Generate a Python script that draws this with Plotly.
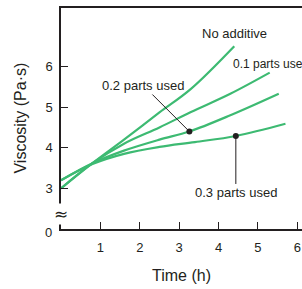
import plotly.graph_objects as go

# Data (time in h, viscosity in Pa·s; y=2 plotted position stands for the broken-axis "0")
x_none = [0, 0.8, 1.6, 2.5, 3.3, 4.4]
y_none = [3.0, 3.62, 4.2, 4.87, 5.45, 6.5]

x_01 = [0, 0.8, 1.6, 2.5, 3.3, 4.3, 5.3]
y_01 = [3.0, 3.62, 4.1, 4.5, 4.88, 5.33, 5.85]

x_02 = [0, 0.8, 1.6, 2.5, 3.26, 4.3, 5.53]
y_02 = [3.2, 3.62, 3.93, 4.2, 4.4, 4.8, 5.33]

x_03 = [0, 0.8, 1.6, 2.5, 3.4, 4.44, 5.7]
y_03 = [3.2, 3.6, 3.85, 4.02, 4.14, 4.29, 4.59]

x_ticks = [1, 2, 3, 4, 5, 6]
y_ticks = [3, 4, 5, 6]
y_tick_text = ["3", "4", "5", "6"]
zero_label = "0"

labels = ["No additive", "0.1 parts used", "0.2 parts used", "0.3 parts used"]

GREEN = "#3dba72"
LBL_FONT = dict(family="Liberation Sans Narrow, Arial Narrow, Liberation Sans, Arial, sans-serif",
                size=13, color="#231f20")
LBL_FONT_SM = dict(LBL_FONT, size=12)
AX_FONT = dict(family="Liberation Sans, Arial, sans-serif", size=16, color="#231f20")
TICK_FONT = dict(family="Liberation Sans, Arial, sans-serif", size=13, color="#231f20")

fig = go.Figure()
for xs, ys in [(x_none, y_none), (x_01, y_01), (x_02, y_02), (x_03, y_03)]:
    fig.add_trace(go.Scatter(x=xs, y=ys, mode="lines",
                             line=dict(color=GREEN, width=2.2, shape="spline", smoothing=1.0),
                             showlegend=False, hoverinfo="skip", cliponaxis=False))

# dots marking the labelled curves
fig.add_trace(go.Scatter(x=[x_02[4], x_03[5]], y=[y_02[4], y_03[5]], mode="markers",
                         marker=dict(color="#231f20", size=6), showlegend=False, hoverinfo="skip"))

annotations = [
    dict(x=x_none[-1], y=y_none[-1], text=labels[0], showarrow=False, xanchor="center",
         yanchor="bottom", xshift=0, yshift=3, font=LBL_FONT),
    dict(x=x_01[-1], y=y_01[-1], text=labels[1], showarrow=False, xanchor="left",
         yanchor="bottom", xshift=-39, yshift=0, font=LBL_FONT_SM),
    dict(x=x_02[4], y=y_02[4], text=labels[2], showarrow=True, arrowhead=0, arrowwidth=1,
         arrowcolor="#231f20", ax=-46, ay=-46, font=LBL_FONT),
    dict(x=x_03[5], y=y_03[5], text=labels[3], showarrow=True, arrowhead=0, arrowwidth=1,
         arrowcolor="#231f20", ax=0, ay=57, font=LBL_FONT),
    dict(x=0, y=2, text=zero_label, showarrow=False, xanchor="right", yanchor="middle",
         xshift=-7, yshift=-3, font=TICK_FONT),
    dict(x=0, y=2.38, text="≈", showarrow=False, xanchor="center", yanchor="middle",
         textangle=0, font=dict(family="DejaVu Sans", size=17, color="#231f20"),
         bgcolor="white", borderpad=0),
    dict(xref="paper", yref="paper", x=-0.17, y=0.5, text="Viscosity (Pa·s)", textangle=-90,
         showarrow=False, xanchor="center", yanchor="middle", font=AX_FONT),
    dict(xref="paper", yref="paper", x=0.5, y=-0.21, text="Time (h)",
         showarrow=False, xanchor="center", yanchor="middle", font=AX_FONT),
]

fig.update_layout(
    width=302, height=289,
    margin=dict(l=61, r=0, t=8, b=60),
    paper_bgcolor="white", plot_bgcolor="white",
    annotations=annotations,
)
fig.update_xaxes(range=[0, 6.12], tickvals=x_ticks, ticks="inside", ticklen=7, tickwidth=1,
                 tickcolor="#231f20", showline=True, linecolor="#231f20", linewidth=1.5,
                 mirror=True, showgrid=False, zeroline=False, tickfont=TICK_FONT,
                 ticklabelstandoff=6, automargin=False)
fig.update_yaxes(range=[2, 7.44], tickvals=y_ticks, ticktext=y_tick_text, ticks="inside",
                 ticklen=7, tickwidth=1, tickcolor="#231f20", showline=True,
                 linecolor="#231f20", linewidth=1.5, showgrid=False, zeroline=False,
                 tickfont=TICK_FONT, ticklabelstandoff=4, automargin=False)

fig.write_html("out.html", config={"displayModeBar": False},
               post_script="document.body.style.margin='0';document.body.style.overflow='hidden';")
